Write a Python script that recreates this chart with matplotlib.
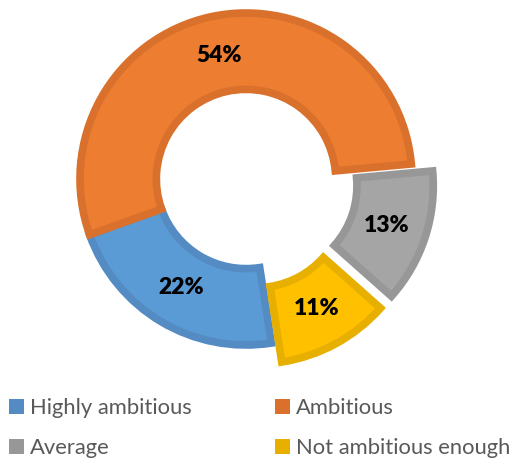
import matplotlib.pyplot as plt
from matplotlib.patches import Patch

categories = ["Highly ambitious", "Ambitious", "Average", "Not ambitious enough"]
shares = [22, 54, 13, 11]
fills = ["#5B9BD5", "#ED7D31", "#A5A5A5", "#FFC000"]
edges = ["#538BC2", "#D9712D", "#979797", "#E7AF00"]
explode = [0, 0, 0.135, 0.13]

W, H = 518, 458
cx, cy, unit = 246, 179, 166  # pie centre and radius in pixels

fig = plt.figure(figsize=(W / 100, H / 100), dpi=100)
ax = fig.add_axes([0, 0, 1, 1])

wedges, texts, autotexts = ax.pie(
    shares,
    colors=fills,
    explode=explode,
    startangle=-81.2,
    counterclock=False,
    autopct="%d%%",
    pctdistance=0.76,
    wedgeprops=dict(width=0.46, linewidth=5.5, joinstyle="miter"),
    textprops=dict(family="Lato", fontweight="heavy", fontsize=16.5, color="black"),
)
for w, ec in zip(wedges, edges):
    w.set_edgecolor(ec)

ax.set_aspect("auto")
ax.set_xlim(-cx / unit, (W - cx) / unit)
ax.set_ylim(-(H - cy) / unit, cy / unit)
ax.axis("off")

# legend is filled row by row: two entries per row
order = [0, 2, 1, 3]
handles = [Patch(facecolor=edges[i], edgecolor="none") for i in order]
labels = [categories[i] for i in order]
fig.legend(
    handles, labels,
    loc="upper left", bbox_to_anchor=(9 / W, 1 - 398 / H),
    ncol=2, frameon=False, borderpad=0, borderaxespad=0,
    handlelength=0.7, handleheight=0.7, handletextpad=0.25,
    columnspacing=3.8, labelspacing=0.92,
    prop=dict(family="Lato", size=15.8), labelcolor="#595959",
)

fig.savefig("out.png", dpi=100)
